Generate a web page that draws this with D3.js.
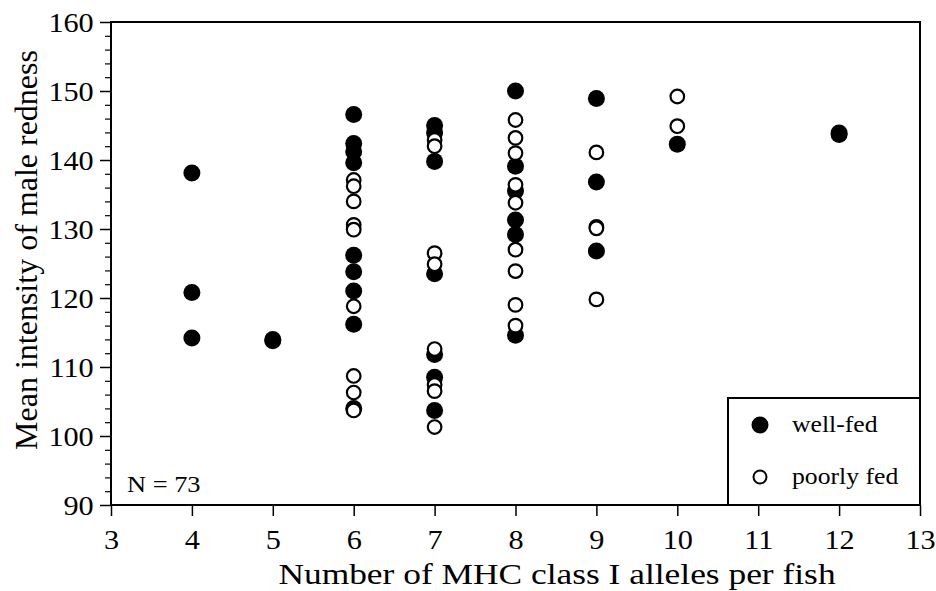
<!DOCTYPE html>
<html><head><meta charset="utf-8">
<script src="https://cdn.jsdelivr.net/npm/d3@7"></script>
<style>body{margin:0;background:#fff}svg{display:block}text{font-family:"Liberation Serif","Times New Roman",serif;fill:#000}</style>
</head><body>
<script>
const xTicks = [3,4,5,6,7,8,9,10,11,12,13];
const yTicks = [90,100,110,120,130,140,150,160];
// well-fed (filled) points: [alleles, redness]
const wellFedX = [4,4,4, 5,5, 6,6,6,6,6,6,6,6,6, 7,7,7,7,7,7,7, 8,8,8,8,8,8, 9,9,9, 10, 12,12];
const wellFedY = [138.1,120.8,114.2, 113.8,114.0, 146.6,142.4,141.2,139.6,126.2,123.8,121.0,116.2,104.0, 145.0,143.9,139.8,123.5,111.8,108.5,103.7, 150.0,139.1,135.5,131.3,129.2,114.6, 148.9,136.8,126.8, 142.3, 143.7,143.9];
// poorly fed (open) points
const poorX = [6,6,6,6,6,6,6,6,6, 7,7,7,7,7,7,7,7, 8,8,8,8,8,8,8,8,8, 9,9,9,9, 10,10];
const poorY = [137.1,136.2,134.0,130.6,129.9,118.8,108.7,106.3,103.7, 142.9,142.0,126.5,124.9,112.6,107.4,106.5,101.3, 145.8,143.2,141.0,136.4,133.8,127.0,123.9,119.0,116.0, 141.1,130.3,130.1,119.8, 149.2,144.9];
const yTitle = "Mean intensity of male redness";
const xTitle = "Number of MHC class I alleles per fish";
const legendLabels = ["well-fed","poorly fed"];
const note = "N = 73";

const W=936,H=591;
const m={l:111,r:920,t:22,b:505};
const svg=d3.select("body").append("svg").attr("width",W).attr("height",H);
const x=d3.scaleLinear().domain([3,13]).range([m.l,m.r]);
const y=d3.scaleLinear().domain([90,160]).range([m.b,m.t]);

// frame
svg.append("rect").attr("x",m.l).attr("y",m.t).attr("width",m.r-m.l).attr("height",m.b-m.t)
  .attr("fill","none").attr("stroke","#000").attr("stroke-width",2);

// y minor ticks
const yMinor=d3.range(90,160.1,2).filter(v=>v%10!==0);
svg.append("g").attr("transform",`translate(${m.l},0)`)
  .call(d3.axisLeft(y).tickValues(yMinor).tickSize(6).tickFormat(""))
  .call(g=>{g.select(".domain").remove();g.selectAll("line").attr("stroke-width",1.2);});
// y major
svg.append("g").attr("transform",`translate(${m.l},0)`)
  .call(d3.axisLeft(y).tickValues(yTicks).tickSize(11).tickPadding(5))
  .call(g=>{g.select(".domain").remove();g.selectAll("line").attr("stroke-width",1.5);
    g.selectAll("text").style("font-size","28px").style("font-family","Liberation Serif").attr("dy","0.34em")
     .attr("transform","scale(1.08,1)");});
// x axis
svg.append("g").attr("transform",`translate(0,${m.b})`)
  .call(d3.axisBottom(x).tickValues(xTicks).tickSize(11).tickPadding(13))
  .call(g=>{g.select(".domain").remove();g.selectAll("line").attr("stroke-width",1.5);
    g.selectAll("text").style("font-size","28px").style("font-family","Liberation Serif")
     .attr("transform","scale(1.08,1)");});

// titles
svg.append("text").attr("transform","translate(557,584) scale(1.18,1)").attr("text-anchor","middle").style("font-size","30px").text(xTitle);
svg.append("text").attr("transform","translate(37,250) rotate(-90)").attr("text-anchor","middle").style("font-size","32px").text(yTitle);
svg.append("text").attr("transform","translate(127,492) scale(1.1,1)").style("font-size","24px").text(note);

// points
const wf=wellFedX.map((d,i)=>({x:d,y:wellFedY[i]}));
const pf=poorX.map((d,i)=>({x:d,y:poorY[i]}));
svg.append("g").selectAll("circle").data(wf).join("circle")
  .attr("cx",d=>x(d.x)).attr("cy",d=>y(d.y)).attr("r",8.5).attr("fill","#000");
svg.append("g").selectAll("circle").data(pf).join("circle")
  .attr("cx",d=>x(d.x)).attr("cy",d=>y(d.y)).attr("r",6.8).attr("fill","#fff").attr("stroke","#000").attr("stroke-width",2.2);

// legend
const lg=svg.append("g");
lg.append("rect").attr("x",728).attr("y",398).attr("width",m.r-728).attr("height",m.b-398)
  .attr("fill","#fff").attr("stroke","#000").attr("stroke-width",2);
lg.append("circle").attr("cx",760).attr("cy",425).attr("r",8.5).attr("fill","#000");
lg.append("circle").attr("cx",760).attr("cy",477).attr("r",6.5).attr("fill","#fff").attr("stroke","#000").attr("stroke-width",2);
lg.append("text").attr("transform","translate(792,432) scale(1.07,1)").style("font-size","24px").text(legendLabels[0]);
lg.append("text").attr("transform","translate(792,484) scale(1.07,1)").style("font-size","24px").text(legendLabels[1]);
</script>
</body></html>
